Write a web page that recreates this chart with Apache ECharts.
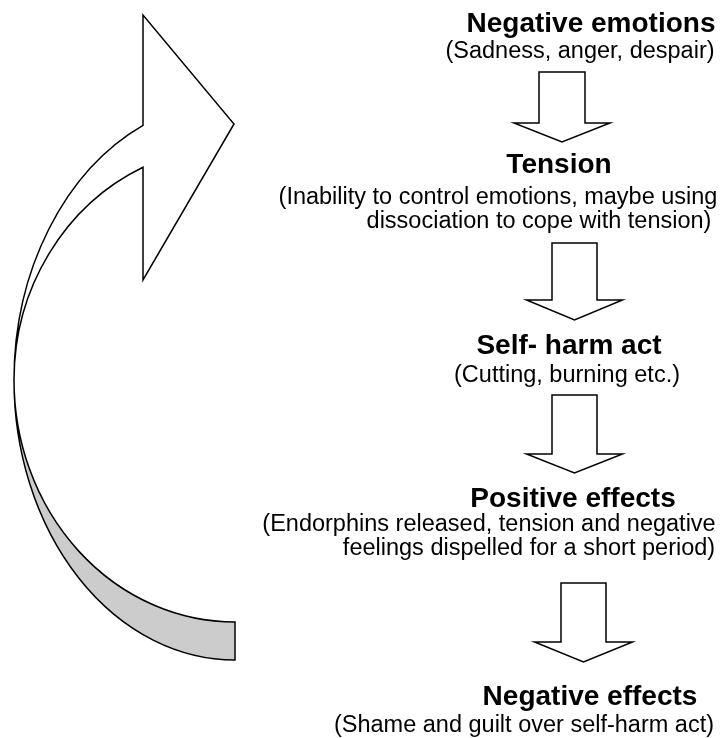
<!DOCTYPE html>
<html>
<head>
<meta charset="utf-8">
<style>
  html, body { margin: 0; padding: 0; background: #fff; }
  #main { width: 725px; height: 738px; }
</style>
<script src="https://cdn.jsdelivr.net/npm/echarts@6/dist/echarts.min.js"></script>
</head>
<body>
<div id="main"></div>
<script>
  // stages of the cycle
  var stageTitles = ['Negative emotions', 'Tension', 'Self- harm act', 'Positive effects', 'Negative effects'];
  var stageNotes = [
    ['(Sadness, anger, despair)'],
    ['(Inability to control emotions, maybe using', 'dissociation to cope with tension)'],
    ['(Cutting, burning etc.)'],
    ['(Endorphins released, tension and negative', 'feelings dispelled for a short period)'],
    ['(Shame and guilt over self-harm act)']
  ];

  // layout, in axis units (1 unit = 1px): [centre x, baseline]
  var titlePos = [[591, 34], [559, 175], [569, 356], [573, 509], [590, 707]];
  var notePos = [
    [[580, 60]],
    [[498, 206], [539, 230]],
    [[567, 384]],
    [[489, 533], [529, 557]],
    [[524, 734]]
  ];
  // down arrows: centre x, top, shaft bottom, tip, shaft width, head width
  var arrowPos = [
    [562, 72, 123, 142, 46, 96],
    [574.5, 243, 300, 320, 45, 96],
    [574.5, 395, 454, 473, 45, 96],
    [583.5, 583, 642, 662, 45, 98]
  ];
  // loop arrow: ellipse centre, x radius, outer / inner-top / inner-bottom y radius
  var loopArrow = {cx: 235, cy: 380, rx: 221, ryOuter: 280, ryInnerTop: 234, ryInnerBottom: 242,
    barbX: 143, barbTop: 15, barbBottom: 280, tip: [234, 124], tailX: 235};

  var FONT = '"Liberation Sans", Arial, sans-serif';
  var LINE = {stroke: '#000', lineWidth: 1.5};

  var textEl = function(api, str, pos, size, bold) {
    var p = api.coord([pos[0], pos[1] - size * 0.35]);
    return {
      type: 'text',
      style: {
        text: str, x: p[0], y: p[1],
        fontSize: size, fontWeight: bold ? 'bold' : 'normal', fontFamily: FONT,
        align: 'center', verticalAlign: 'middle', fill: '#000'
      }
    };
  };

  var arrowEl = function(api, a) {
    var cx = a[0], hs = a[4] / 2, hh = a[5] / 2;
    var pts = [[cx - hs, a[1]], [cx + hs, a[1]], [cx + hs, a[2]], [cx + hh, a[2]],
      [cx, a[3]], [cx - hh, a[2]], [cx - hs, a[2]]].map(function(p) { return api.coord(p); });
    return {type: 'polygon', shape: {points: pts}, style: Object.assign({fill: '#fff'}, LINE)};
  };

  var renderStage = function(params, api) {
    var i = params.dataIndex;
    var children = [textEl(api, stageTitles[i], titlePos[i], 28, true)];
    for (var k = 0; k < stageNotes[i].length; k++) {
      children.push(textEl(api, stageNotes[i][k], notePos[i][k], 23.5, false));
    }
    if (i < arrowPos.length) {
      children.push(arrowEl(api, arrowPos[i]));
    }
    return {type: 'group', children: children};
  };

  var renderLoop = function(params, api) {
    var L = loopArrow;
    var dx = (L.cx - L.barbX) / L.rx;
    var k = Math.sqrt(1 - dx * dx);
    var left = api.coord([L.cx - L.rx, L.cy]);
    var outerTop = api.coord([L.barbX, L.cy - L.ryOuter * k]);
    var innerTop = api.coord([L.barbX, L.cy - L.ryInnerTop * k]);
    var barbTop = api.coord([L.barbX, L.barbTop]);
    var barbBottom = api.coord([L.barbX, L.barbBottom]);
    var tip = api.coord(L.tip);
    var tailOuter = api.coord([L.tailX, L.cy + L.ryOuter]);
    var tailInner = api.coord([L.tailX, L.cy + L.ryInnerBottom]);

    var back = 'M ' + left[0] + ' ' + left[1] +
      ' A ' + L.rx + ' ' + L.ryOuter + ' 0 0 0 ' + tailOuter[0] + ' ' + tailOuter[1] +
      ' L ' + tailInner[0] + ' ' + tailInner[1] +
      ' A ' + L.rx + ' ' + L.ryInnerBottom + ' 0 0 1 ' + left[0] + ' ' + left[1] + ' Z';
    var front = 'M ' + outerTop[0] + ' ' + outerTop[1] +
      ' L ' + barbTop[0] + ' ' + barbTop[1] +
      ' L ' + tip[0] + ' ' + tip[1] +
      ' L ' + barbBottom[0] + ' ' + barbBottom[1] +
      ' L ' + innerTop[0] + ' ' + innerTop[1] +
      ' A ' + L.rx + ' ' + L.ryInnerTop + ' 0 0 0 ' + left[0] + ' ' + left[1] +
      ' A ' + L.rx + ' ' + L.ryOuter + ' 0 0 1 ' + outerTop[0] + ' ' + outerTop[1] + ' Z';

    return {
      type: 'group',
      children: [
        {type: 'path', shape: {pathData: back}, style: Object.assign({fill: '#cccccc'}, LINE)},
        {type: 'path', shape: {pathData: front}, style: Object.assign({fill: '#ffffff'}, LINE)}
      ]
    };
  };

  var chart = echarts.init(document.getElementById('main'));
  chart.setOption({
    backgroundColor: '#fff',
    animation: false,
    grid: {left: 0, right: 0, top: 0, bottom: 0},
    xAxis: {type: 'value', min: 0, max: 725, show: false},
    yAxis: {type: 'value', min: 0, max: 738, inverse: true, show: false},
    series: [
      {
        type: 'custom',
        name: 'loop',
        renderItem: renderLoop,
        data: [0],
        silent: true
      },
      {
        type: 'custom',
        name: 'stages',
        renderItem: renderStage,
        data: stageTitles.map(function(t, i) { return i; }),
        silent: true
      }
    ]
  });
</script>
</body>
</html>
